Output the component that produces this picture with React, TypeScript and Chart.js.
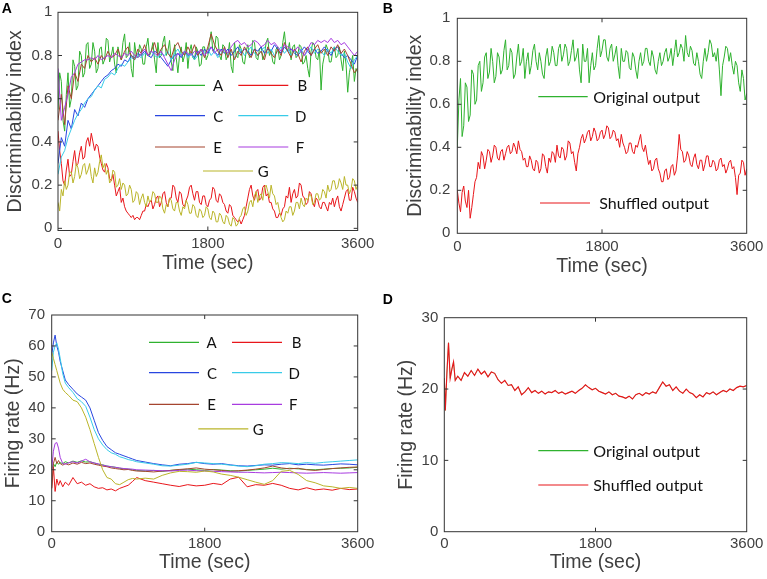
import React, { useEffect, useRef } from "react";
import { Chart, registerables } from "chart.js";

Chart.register(...registerables);

// ---------------- data ----------------
const X_TICKS = [0, 1800, 3600];
const X_TICK_LABELS = ["0", "1800", "3600"];
const DISC_TICKS = [0, 0.2, 0.4, 0.6, 0.8, 1];
const DISC_TICK_LABELS = ["0", "0.2", "0.4", "0.6", "0.8", "1"];
const RATE_C_TICKS = [0, 10, 20, 30, 40, 50, 60, 70];
const RATE_C_TICK_LABELS = ["0", "10", "20", "30", "40", "50", "60", "70"];
const RATE_D_TICKS = [0, 10, 20, 30];
const RATE_D_TICK_LABELS = ["0", "10", "20", "30"];

const SERIES_NAMES = ["A", "B", "C", "D", "E", "F", "G"];
const OUTPUT_NAMES = ["Original output", "Shuffled output"];

// time stamps (sec), 40 s grid
const T40 = [
  0, 40, 80, 120, 160, 200, 240, 280, 320, 360,
  400, 440, 480, 520, 560, 600, 640, 680, 720, 760,
  800, 840, 880, 920, 960, 1000, 1040, 1080, 1120, 1160,
  1200, 1240, 1280, 1320, 1360, 1400, 1440, 1480, 1520, 1560,
  1600, 1640, 1680, 1720, 1760, 1800, 1840, 1880, 1920, 1960,
  2000, 2040, 2080, 2120, 2160, 2200, 2240, 2280, 2320, 2360,
  2400, 2440, 2480, 2520, 2560, 2600, 2640, 2680, 2720, 2760,
  2800, 2840, 2880, 2920, 2960, 3000, 3040, 3080, 3120, 3160,
  3200, 3240, 3280, 3320, 3360, 3400, 3440, 3480, 3520, 3560,
  3600,
];
// time stamps (sec), 20 s grid
const T20 = [
  0, 20, 40, 60, 80, 100, 120, 140, 160, 180, 200, 220, 240, 260, 280, 300, 320, 340, 360, 380,
  400, 420, 440, 460, 480, 500, 520, 540, 560, 580, 600, 620, 640, 660, 680, 700, 720, 740, 760, 780,
  800, 820, 840, 860, 880, 900, 920, 940, 960, 980, 1000, 1020, 1040, 1060, 1080, 1100, 1120, 1140, 1160, 1180,
  1200, 1220, 1240, 1260, 1280, 1300, 1320, 1340, 1360, 1380, 1400, 1420, 1440, 1460, 1480, 1500, 1520, 1540, 1560, 1580,
  1600, 1620, 1640, 1660, 1680, 1700, 1720, 1740, 1760, 1780, 1800, 1820, 1840, 1860, 1880, 1900, 1920, 1940, 1960, 1980,
  2000, 2020, 2040, 2060, 2080, 2100, 2120, 2140, 2160, 2180, 2200, 2220, 2240, 2260, 2280, 2300, 2320, 2340, 2360, 2380,
  2400, 2420, 2440, 2460, 2480, 2500, 2520, 2540, 2560, 2580, 2600, 2620, 2640, 2660, 2680, 2700, 2720, 2740, 2760, 2780,
  2800, 2820, 2840, 2860, 2880, 2900, 2920, 2940, 2960, 2980, 3000, 3020, 3040, 3060, 3080, 3100, 3120, 3140, 3160, 3180,
  3200, 3220, 3240, 3260, 3280, 3300, 3320, 3340, 3360, 3380, 3400, 3420, 3440, 3460, 3480, 3500, 3520, 3540, 3560, 3580,
  3600,
];

// Panel A: discriminability index (A, B, G on the 20 s grid; C-F on the 40 s grid)
const DISC_A = [
  0.55, 0.72, 0.68, 0.5, 0.45, 0.62, 0.72, 0.56, 0.6, 0.78, 0.75, 0.64, 0.66, 0.82, 0.8, 0.7, 0.72, 0.85, 0.86, 0.74,
  0.76, 0.86, 0.82, 0.72, 0.74, 0.83, 0.84, 0.76, 0.78, 0.88, 0.87, 0.77, 0.8, 0.84, 0.76, 0.72, 0.84, 0.8, 0.78, 0.86,
  0.9, 0.79, 0.8, 0.86, 0.74, 0.7, 0.86, 0.8, 0.79, 0.85, 0.83, 0.76, 0.76, 0.84, 0.88, 0.8, 0.82, 0.86, 0.78, 0.72,
  0.86, 0.79, 0.8, 0.86, 0.89, 0.8, 0.82, 0.87, 0.77, 0.73, 0.85, 0.79, 0.72, 0.8, 0.84, 0.77, 0.8, 0.86, 0.74, 0.82,
  0.85, 0.79, 0.78, 0.84, 0.82, 0.75, 0.76, 0.84, 0.84, 0.78, 0.8, 0.86, 0.91, 0.82, 0.83, 0.89, 0.88, 0.8, 0.78, 0.85,
  0.84, 0.78, 0.8, 0.86, 0.75, 0.72, 0.86, 0.8, 0.79, 0.85, 0.83, 0.77, 0.76, 0.82, 0.85, 0.79, 0.8, 0.87, 0.86, 0.79,
  0.78, 0.83, 0.84, 0.78, 0.8, 0.86, 0.88, 0.8, 0.82, 0.77, 0.76, 0.83, 0.84, 0.78, 0.8, 0.86, 0.91, 0.83, 0.82, 0.86,
  0.78, 0.84, 0.85, 0.79, 0.8, 0.85, 0.84, 0.76, 0.77, 0.8, 0.74, 0.7, 0.82, 0.86, 0.85, 0.79, 0.78, 0.83, 0.64, 0.76,
  0.8, 0.85, 0.83, 0.77, 0.77, 0.82, 0.84, 0.79, 0.8, 0.84, 0.78, 0.73, 0.82, 0.76, 0.63, 0.72, 0.76, 0.8, 0.68, 0.74,
  0.72,
];
const DISC_B = [
  0.45, 0.36, 0.3, 0.22, 0.2, 0.27, 0.32, 0.24, 0.25, 0.31, 0.36, 0.29, 0.3, 0.35, 0.38, 0.32, 0.33, 0.4, 0.42, 0.38,
  0.44, 0.4, 0.36, 0.39, 0.38, 0.33, 0.3, 0.27, 0.26, 0.3, 0.28, 0.23, 0.22, 0.25, 0.2, 0.15, 0.17, 0.19, 0.12, 0.14,
  0.1, 0.08, 0.07, 0.06, 0.05, 0.06, 0.04, 0.05, 0.05, 0.04, 0.06, 0.08, 0.08, 0.11, 0.1, 0.12, 0.13, 0.09, 0.11, 0.14,
  0.15, 0.1, 0.12, 0.16, 0.17, 0.12, 0.1, 0.14, 0.14, 0.2, 0.19, 0.14, 0.12, 0.17, 0.16, 0.11, 0.1, 0.13, 0.15, 0.19,
  0.2, 0.16, 0.13, 0.17, 0.17, 0.12, 0.11, 0.15, 0.15, 0.11, 0.1, 0.13, 0.14, 0.19, 0.18, 0.13, 0.12, 0.16, 0.15, 0.12,
  0.11, 0.08, 0.07, 0.11, 0.1, 0.06, 0.05, 0.04, 0.03, 0.04, 0.02, 0.04, 0.06, 0.1, 0.14, 0.18, 0.2, 0.15, 0.13, 0.17,
  0.18, 0.13, 0.14, 0.19, 0.2, 0.15, 0.16, 0.12, 0.12, 0.09, 0.08, 0.05, 0.05, 0.07, 0.06, 0.09, 0.1, 0.15, 0.14, 0.19,
  0.12, 0.16, 0.18, 0.14, 0.15, 0.21, 0.2, 0.15, 0.14, 0.11, 0.12, 0.17, 0.16, 0.12, 0.1, 0.14, 0.13, 0.1, 0.09, 0.12,
  0.12, 0.1, 0.08, 0.12, 0.11, 0.14, 0.1, 0.13, 0.15, 0.1, 0.08, 0.11, 0.14, 0.17, 0.18, 0.13, 0.13, 0.19, 0.17, 0.14,
  0.12,
];
const DISC_C = [
  0.3, 0.42, 0.38, 0.5, 0.46, 0.55, 0.52, 0.58, 0.56, 0.6,
  0.62, 0.64, 0.66, 0.68, 0.7, 0.71, 0.73, 0.74, 0.76, 0.75,
  0.78, 0.77, 0.8, 0.79, 0.81, 0.8, 0.82, 0.8, 0.79, 0.82,
  0.81, 0.79, 0.77, 0.75, 0.78, 0.8, 0.81, 0.79, 0.82, 0.8,
  0.81, 0.79, 0.82, 0.8, 0.83, 0.81, 0.84, 0.82, 0.8, 0.83,
  0.81, 0.83, 0.8, 0.82, 0.84, 0.81, 0.83, 0.82, 0.8, 0.83,
  0.82, 0.84, 0.81, 0.83, 0.82, 0.85, 0.83, 0.81, 0.84, 0.82,
  0.83, 0.81, 0.8, 0.82, 0.84, 0.82, 0.8, 0.83, 0.81, 0.82,
  0.84, 0.82, 0.8, 0.83, 0.84, 0.81, 0.79, 0.8, 0.78, 0.76,
  0.8,
];
const DISC_D = [
  0.25, 0.33, 0.36, 0.42, 0.46, 0.5, 0.53, 0.55, 0.58, 0.6,
  0.61, 0.64, 0.66, 0.65, 0.69, 0.7, 0.72, 0.71, 0.74, 0.76,
  0.75, 0.77, 0.79, 0.78, 0.8, 0.79, 0.81, 0.8, 0.82, 0.8,
  0.79, 0.81, 0.8, 0.82, 0.78, 0.81, 0.83, 0.8, 0.82, 0.79,
  0.81, 0.78, 0.8, 0.82, 0.81, 0.83, 0.8, 0.82, 0.79, 0.81,
  0.83, 0.8, 0.82, 0.79, 0.81, 0.83, 0.8, 0.82, 0.84, 0.81,
  0.8, 0.82, 0.84, 0.81, 0.83, 0.8, 0.82, 0.84, 0.81, 0.83,
  0.8, 0.82, 0.81, 0.83, 0.8, 0.82, 0.84, 0.81, 0.83, 0.82,
  0.8, 0.83, 0.81, 0.84, 0.82, 0.8, 0.81, 0.77, 0.74, 0.78,
  0.8,
];
const DISC_E = [
  0.5, 0.62, 0.48, 0.66, 0.6, 0.72, 0.68, 0.76, 0.74, 0.8,
  0.77, 0.79, 0.76, 0.8, 0.78, 0.82, 0.79, 0.8, 0.83, 0.78,
  0.82, 0.84, 0.8, 0.78, 0.83, 0.81, 0.85, 0.8, 0.82, 0.86,
  0.8, 0.83, 0.85, 0.81, 0.79, 0.84, 0.86, 0.82, 0.8, 0.84,
  0.81, 0.85, 0.8, 0.83, 0.79, 0.84, 0.9, 0.85, 0.82, 0.8,
  0.84, 0.79, 0.83, 0.78, 0.82, 0.8, 0.84, 0.81, 0.79, 0.83,
  0.8, 0.82, 0.78, 0.84, 0.81, 0.79, 0.83, 0.8, 0.86, 0.82,
  0.79, 0.83, 0.81, 0.77, 0.82, 0.84, 0.8, 0.83, 0.85, 0.81,
  0.83, 0.8, 0.84, 0.82, 0.85, 0.81, 0.83, 0.8, 0.76, 0.72,
  0.74,
];
const DISC_F = [
  0.74, 0.5, 0.56, 0.62, 0.7, 0.72, 0.76, 0.77, 0.78, 0.78,
  0.79, 0.78, 0.8, 0.78, 0.79, 0.8, 0.79, 0.81, 0.8, 0.79,
  0.81, 0.8, 0.82, 0.8, 0.79, 0.81, 0.83, 0.8, 0.82, 0.81,
  0.8, 0.82, 0.79, 0.76, 0.73, 0.78, 0.81, 0.8, 0.82, 0.81,
  0.8, 0.82, 0.81, 0.83, 0.8, 0.82, 0.84, 0.81, 0.83, 0.82,
  0.83, 0.81, 0.84, 0.86, 0.87, 0.85, 0.86, 0.84, 0.85, 0.87,
  0.86, 0.84, 0.85, 0.87, 0.85, 0.86, 0.84, 0.82, 0.85, 0.84,
  0.83, 0.82, 0.84, 0.82, 0.8, 0.83, 0.86, 0.85, 0.87, 0.86,
  0.87, 0.86, 0.88, 0.86, 0.87, 0.85, 0.86, 0.84, 0.82, 0.8,
  0.82,
];
const DISC_G = [
  0.12, 0.08, 0.18, 0.15, 0.22, 0.18, 0.2, 0.26, 0.26, 0.21, 0.24, 0.3, 0.28, 0.23, 0.25, 0.29, 0.3, 0.25, 0.27, 0.3,
  0.24, 0.21, 0.28, 0.24, 0.26, 0.31, 0.34, 0.28, 0.3, 0.25, 0.27, 0.21, 0.22, 0.27, 0.26, 0.19, 0.2, 0.23, 0.18, 0.21,
  0.2, 0.15, 0.16, 0.2, 0.18, 0.12, 0.13, 0.17, 0.16, 0.11, 0.14, 0.16, 0.12, 0.1, 0.15, 0.12, 0.13, 0.17, 0.16, 0.12,
  0.12, 0.15, 0.14, 0.09, 0.07, 0.11, 0.1, 0.14, 0.13, 0.09, 0.08, 0.12, 0.12, 0.08, 0.06, 0.1, 0.09, 0.13, 0.11, 0.07,
  0.07, 0.11, 0.1, 0.06, 0.05, 0.09, 0.08, 0.05, 0.06, 0.1, 0.09, 0.05, 0.04, 0.08, 0.07, 0.03, 0.03, 0.07, 0.06, 0.03,
  0.02, 0.06, 0.05, 0.02, 0.01, 0.05, 0.04, 0.01, 0.02, 0.05, 0.06, 0.09, 0.1, 0.06, 0.08, 0.12, 0.13, 0.1, 0.15, 0.17,
  0.12, 0.15, 0.16, 0.13, 0.19, 0.2, 0.17, 0.14, 0.2, 0.16, 0.15, 0.11, 0.12, 0.08, 0.05, 0.03, 0.04, 0.08, 0.07, 0.1,
  0.1, 0.06, 0.08, 0.12, 0.12, 0.09, 0.14, 0.11, 0.1, 0.14, 0.13, 0.16, 0.15, 0.11, 0.12, 0.16, 0.16, 0.13, 0.14, 0.18,
  0.17, 0.14, 0.2, 0.17, 0.18, 0.22, 0.22, 0.18, 0.19, 0.23, 0.21, 0.18, 0.24, 0.2, 0.2, 0.16, 0.18, 0.23, 0.22, 0.18,
  0.2,
];

// Panel B: original vs shuffled discriminability (20 s grid)
const DISC_ORIGINAL = [
  0.4, 0.62, 0.72, 0.45, 0.5, 0.7, 0.68, 0.52, 0.55, 0.76, 0.74, 0.6, 0.62, 0.78, 0.8, 0.66, 0.7, 0.82, 0.84, 0.72,
  0.75, 0.86, 0.8, 0.7, 0.73, 0.84, 0.82, 0.74, 0.76, 0.85, 0.9, 0.76, 0.78, 0.86, 0.84, 0.72, 0.74, 0.82, 0.88, 0.78,
  0.8, 0.86, 0.72, 0.8, 0.84, 0.74, 0.78, 0.85, 0.88, 0.8, 0.76, 0.84, 0.8, 0.74, 0.72, 0.82, 0.86, 0.78, 0.8, 0.87,
  0.84, 0.78, 0.78, 0.86, 0.88, 0.8, 0.83, 0.88, 0.86, 0.78, 0.8, 0.85, 0.9, 0.8, 0.82, 0.86, 0.76, 0.7, 0.88, 0.8,
  0.8, 0.86, 0.7, 0.78, 0.84, 0.76, 0.78, 0.86, 0.92, 0.82, 0.85, 0.9, 0.9, 0.82, 0.8, 0.86, 0.88, 0.8, 0.83, 0.87,
  0.78, 0.72, 0.86, 0.8, 0.8, 0.85, 0.84, 0.77, 0.76, 0.84, 0.82, 0.76, 0.72, 0.8, 0.84, 0.78, 0.8, 0.86, 0.86, 0.8,
  0.78, 0.85, 0.82, 0.76, 0.74, 0.8, 0.84, 0.78, 0.8, 0.84, 0.86, 0.8, 0.82, 0.86, 0.78, 0.84, 0.9, 0.82, 0.84, 0.88,
  0.86, 0.8, 0.92, 0.84, 0.82, 0.87, 0.85, 0.79, 0.78, 0.84, 0.8, 0.74, 0.72, 0.8, 0.86, 0.8, 0.84, 0.9, 0.88, 0.82,
  0.84, 0.8, 0.86, 0.76, 0.64, 0.78, 0.82, 0.87, 0.86, 0.8, 0.84, 0.78, 0.74, 0.8, 0.78, 0.7, 0.66, 0.76, 0.72, 0.62,
  0.65,
];
const DISC_SHUFFLED = [
  0.2, 0.14, 0.1, 0.19, 0.22, 0.15, 0.12, 0.2, 0.07, 0.12, 0.18, 0.24, 0.26, 0.33, 0.3, 0.38, 0.36, 0.3, 0.34, 0.39,
  0.38, 0.33, 0.36, 0.41, 0.4, 0.35, 0.34, 0.38, 0.39, 0.34, 0.37, 0.4, 0.41, 0.37, 0.38, 0.42, 0.4, 0.37, 0.43, 0.39,
  0.38, 0.34, 0.35, 0.31, 0.31, 0.36, 0.34, 0.3, 0.29, 0.34, 0.33, 0.28, 0.3, 0.37, 0.36, 0.31, 0.28, 0.35, 0.33, 0.38,
  0.37, 0.33, 0.41, 0.36, 0.35, 0.4, 0.39, 0.34, 0.36, 0.43, 0.42, 0.37, 0.38, 0.33, 0.29, 0.37, 0.4, 0.44, 0.46, 0.42,
  0.44, 0.47, 0.48, 0.43, 0.45, 0.49, 0.47, 0.43, 0.44, 0.47, 0.48, 0.44, 0.46, 0.5, 0.49, 0.44, 0.45, 0.48, 0.47, 0.43,
  0.44, 0.4, 0.46, 0.42, 0.4, 0.37, 0.38, 0.42, 0.42, 0.38, 0.37, 0.41, 0.4, 0.43, 0.46, 0.4, 0.38, 0.41, 0.36, 0.32,
  0.34, 0.29, 0.3, 0.34, 0.35, 0.3, 0.28, 0.24, 0.24, 0.29, 0.3, 0.25, 0.26, 0.31, 0.32, 0.27, 0.29, 0.36, 0.46, 0.39,
  0.38, 0.33, 0.34, 0.38, 0.36, 0.32, 0.31, 0.35, 0.37, 0.32, 0.3, 0.34, 0.34, 0.29, 0.32, 0.36, 0.36, 0.31, 0.31, 0.34,
  0.33, 0.29, 0.3, 0.34, 0.35, 0.31, 0.32, 0.28, 0.3, 0.33, 0.34, 0.3, 0.31, 0.26, 0.18, 0.27, 0.28, 0.34, 0.33, 0.27,
  0.3,
];

// Panel C: firing rate (Hz)
const T_RATE = [
  0, 20, 40, 60, 80, 100, 130, 160, 200,
  250, 300, 350, 400, 450, 500, 550, 600, 650, 700, 750, 800, 850, 900, 950, 1000,
  1100, 1200, 1300, 1400, 1500, 1600, 1700, 1800, 1900, 2000, 2100, 2200, 2300,
  2400, 2500, 2600, 2700, 2800, 2900, 3000, 3100, 3200, 3300, 3400, 3500, 3600,
];
const RATE_A = [
  20, 22, 21, 22.5, 21.8, 22.3, 22, 22.6, 22.2,
  22.8, 22.4, 22.9, 22.5, 22.6, 22.2, 21.8, 21.6, 21.2, 21, 20.8, 20.5, 20.3, 20.2, 20, 19.8,
  19.6, 19.8, 19.5, 19.8, 20, 20.2, 20, 19.8, 20.1, 19.9, 19.7, 19.6, 19.8,
  20, 20.2, 20.5, 20.2, 20.5, 20.3, 20.1, 20, 20.2, 20.4, 20.5, 20.6, 20.8,
];
const RATE_B = [
  14, 21, 13, 17, 15, 16.5, 14.5, 16, 15,
  17.5, 15.5, 16, 15, 15.5, 14.5, 14, 14.2, 13.5, 13.8, 13.2, 14, 14.5, 15, 16.2, 17.5,
  16.5, 16, 15.5, 15, 14.6, 15.2, 14.8, 15, 15.6, 15.2, 17, 17.6, 14.5,
  15.2, 15, 15.6, 15, 14, 13.5, 14.2, 13.5, 13.8, 13.4, 14, 13.6, 13.8,
];
const RATE_C = [
  57, 61, 63.5, 60, 58, 55, 52, 49, 47.5,
  46, 44.5, 43.5, 42.5, 40, 36, 32, 29.5, 27.5, 26.5, 25.5, 25, 24.5, 24, 23.5, 23,
  22.5, 22, 21.6, 21.3, 21.8, 22, 22.4, 22, 21.8, 22, 21.6, 21.3, 21.2,
  21.4, 21.6, 21.5, 21.8, 22, 21.6, 21.8, 21.6, 21.5, 21.7, 21.9, 21.8, 21.6,
];
const RATE_D = [
  52, 58, 60, 61, 59, 56, 51, 48, 46.5,
  45, 43, 42, 40.5, 37, 33, 30, 28, 26.5, 25.5, 25, 24.2, 23.8, 23.3, 23, 22.6,
  22.2, 21.8, 21.3, 21.2, 21.5, 21.8, 22.4, 22.2, 22, 21.8, 21.5, 21.2, 21,
  21.3, 21.8, 22, 22.3, 22.2, 22, 22.3, 22.1, 22.4, 22.6, 22.8, 23, 23.2,
];
const RATE_E = [
  14, 22, 24, 22, 23, 22, 21.5, 22, 21.6,
  22.2, 21.8, 22.4, 22, 22.2, 21.8, 21.5, 21.2, 21, 20.6, 20.4, 20.2, 20, 20.1, 19.8, 19.6,
  19.5, 19.3, 19.6, 19.8, 20.1, 20.3, 20.6, 20.2, 20, 19.8, 19.5, 19.7, 19.9,
  20.2, 20.6, 21.2, 20.6, 20.3, 20.5, 20, 19.8, 20.1, 20.4, 20.6, 20.8, 20.9,
];
const RATE_F = [
  20, 26, 28.5, 28.8, 27, 24, 22, 21.8, 22.3,
  22.6, 22.2, 22.8, 23.4, 22.6, 22.2, 21.9, 21.5, 21.2, 21, 20.8, 20.6, 20.4, 20.3, 20.2, 20,
  19.9, 19.8, 19.7, 19.6, 19.8, 19.9, 19.7, 19.6, 19.5, 19.4, 19.3, 19.2, 19.2,
  19.1, 19, 19.1, 19.2, 19.1, 19, 18.9, 19, 19.1, 19, 18.9, 19, 19.1,
];
const RATE_G = [
  58, 56, 54, 52, 50, 48, 46, 45, 44,
  42.5, 42, 40, 37, 33, 28.5, 24, 20, 17.5, 17, 15.5, 15.2, 16, 16.8, 17.2, 17,
  17.3, 17, 18.2, 19, 19.5, 19.4, 19.2, 19.6, 19.3, 18.6, 18.2, 17.6, 16.8,
  16, 15.3, 16.5, 19.5, 19.8, 18.5, 16.5, 15.8, 14.8, 14.5, 14, 14.3, 14,
];

// Panel D: firing rate of original / shuffled output (curves coincide)
const T_OUT = [
  0, 12, 30, 50, 70, 90, 110, 130, 160,
  200, 240, 280, 320, 360, 400, 440, 480, 520, 560,
  600, 640, 680, 720, 760, 800, 840, 880, 920, 960,
  1000, 1040, 1080, 1120, 1160, 1200, 1240, 1280, 1320, 1360,
  1400, 1440, 1480, 1520, 1560, 1600, 1640, 1680, 1720, 1760,
  1800, 1840, 1880, 1920, 1960, 2000, 2040, 2080, 2120, 2160,
  2200, 2240, 2280, 2320, 2360, 2400, 2440, 2480, 2520, 2560,
  2600, 2640, 2680, 2720, 2760, 2800, 2840, 2880, 2920, 2960,
  3000, 3040, 3080, 3120, 3160, 3200, 3240, 3280, 3320, 3360,
  3400, 3440, 3480, 3520, 3560, 3600,
];
const RATE_SHUFFLED = [
  21.5, 17, 22, 26.5, 21.5, 22.8, 23.8, 21.2, 21.8,
  21.2, 22.3, 21.8, 22.6, 21.9, 22.8, 22.1, 22.5, 21.7, 22.4,
  22.2, 21.3, 20.8, 21.2, 20.5, 20.6, 19.8, 20.3, 19.2, 19.6,
  20.2, 19.5, 19.8, 19.4, 19.7, 19.3, 19.6, 19.5, 19.8, 19.4,
  19.6, 19.3, 19.5, 19.7, 19.4, 19.8, 20.1, 20.6, 20.2, 19.9,
  20.1, 19.7, 19.5, 19.3, 19.6, 19.2, 19.4, 19.0, 18.9, 18.7,
  19.0, 18.6, 19.2, 19.4, 19.1, 19.5, 19.3, 19.6, 19.4, 20.2,
  21.0, 20.4, 20.6, 19.8, 20.3, 19.7, 19.4, 20.0, 19.5, 19.3,
  18.8, 19.2, 18.9, 19.5, 19.3, 19.6, 19.2, 19.5, 19.8, 19.6,
  20.0, 19.8, 20.2, 20.4, 20.3, 20.5,
];
const RATE_ORIGINAL = RATE_SHUFFLED;

// ---------------- styles ----------------
const GREEN = "#2fb22f";
const RED = "#e8161b";
const BLUE = "#2846e0";
const CYAN = "#38cbe8";
const BROWN = "#a5452f";
const PURPLE = "#a83ce0";
const OLIVE = "#bab52a";
const COLORS = [GREEN, RED, BLUE, CYAN, BROWN, PURPLE, OLIVE];

const TITLE_FONT = '"Liberation Sans", Arial, Helvetica, sans-serif';
const TICK_FONT = '"Liberation Sans Narrow", "Liberation Sans", Arial, sans-serif';
const LEGEND_FONT = 'Lato, "Noto Sans", sans-serif';
const INK = "#404040";
const AXIS = "#333333";
const TITLE_SIZE = 19.5;
const TICK_SIZE = 15;
const TICK_LEN = 4;

function letterLegend(rows, lineA, lineB, labelA, labelB, gRow) {
  const items = [];
  rows.forEach((y, r) => {
    const iA = r * 2;
    const iB = r * 2 + 1;
    items.push({ x1: lineA[0], x2: lineA[1], y, color: COLORS[iA], text: SERIES_NAMES[iA], tx: labelA[r], align: "center", size: 15 });
    items.push({ x1: lineB[0], x2: lineB[1], y, color: COLORS[iB], text: SERIES_NAMES[iB], tx: labelB[r], align: "center", size: 15 });
  });
  items.push({ x1: gRow.x1, x2: gRow.x2, y: gRow.y, color: COLORS[6], text: SERIES_NAMES[6], tx: gRow.tx, align: "center", size: 15 });
  return items;
}

const PANELS = [
  {
    letter: "A", letterX: 1.7, letterY: 13.3,
    canvas: { x: 0, y: 0, w: 378, h: 278 },
    plot: { l: 58, t: 12.3, r: 357.7, b: 230.5 },
    yMin: -0.01, yMax: 1, yTicks: DISC_TICKS, yLabels: DISC_TICK_LABELS,
    yTitle: "Discriminability index", yTitleMid: 15.5, yTickPad: 5.7, xTickPad: 4.5, xTitleOff: 33,
    series: [
      { t: T20, v: DISC_A, color: GREEN },
      { t: T20, v: DISC_B, color: RED },
      { t: T40, v: DISC_C, color: BLUE },
      { t: T40, v: DISC_D, color: CYAN },
      { t: T40, v: DISC_E, color: BROWN },
      { t: T40, v: DISC_F, color: PURPLE },
      { t: T20, v: DISC_G, color: OLIVE },
    ],
    legend: letterLegend([85.3, 115.7, 147], [155, 205], [238.3, 288.3], [218, 218.3, 217.7], [302.3, 300.7, 300], { x1: 203, x2: 253, y: 171, tx: 263.3 }),
  },
  {
    letter: "B", letterX: 382.7, letterY: 12.7,
    canvas: { x: 380, y: 0, w: 387, h: 280 },
    plot: { l: 457.3, t: 18.3, r: 746.7, b: 233.3 },
    yMin: 0, yMax: 1, yTicks: DISC_TICKS, yLabels: DISC_TICK_LABELS,
    yTitle: "Discriminability index", yTitleMid: 416, yTickPad: 7, xTickPad: 4.5, xTitleOff: 33,
    series: [
      { t: T20, v: DISC_ORIGINAL, color: GREEN },
      { t: T20, v: DISC_SHUFFLED, color: RED },
    ],
    legend: [
      { x1: 538.3, x2: 587.7, y: 96.7, color: GREEN, text: OUTPUT_NAMES[0], tx: 593.3, align: "left", size: 16 },
      { x1: 540, x2: 590, y: 203, color: RED, text: OUTPUT_NAMES[1], tx: 599.3, align: "left", size: 16 },
    ],
  },
  {
    letter: "C", letterX: 1.7, letterY: 303.3,
    canvas: { x: 0, y: 280, w: 378, h: 299 },
    plot: { l: 51.7, t: 315, r: 357.7, b: 531.7 },
    yMin: 0, yMax: 70, yTicks: RATE_C_TICKS, yLabels: RATE_C_TICK_LABELS,
    yTitle: "Firing rate (Hz)", yTitleMid: 13.3, yTickPad: 6.7, xTickPad: 3, xTitleOff: 31,
    series: [RATE_A, RATE_B, RATE_C, RATE_D, RATE_E, RATE_F, RATE_G].map((v, i) => ({ t: T_RATE, v, color: COLORS[i] })),
    legend: letterLegend([342.3, 372.7, 404.3], [149, 199], [232, 282], [211.7, 212, 211.7], [296.7, 294.3, 293.3], { x1: 198.3, x2: 248.3, y: 428.8, tx: 258.3 }),
  },
  {
    letter: "D", letterX: 382.7, letterY: 304.3,
    canvas: { x: 380, y: 280, w: 387, h: 299 },
    plot: { l: 444.3, t: 317.7, r: 746.7, b: 531.7 },
    yMin: 0, yMax: 30, yTicks: RATE_D_TICKS, yLabels: RATE_D_TICK_LABELS,
    yTitle: "Firing rate (Hz)", yTitleMid: 406.5, yTickPad: 6, xTickPad: 3, xTitleOff: 31,
    series: [
      { t: T_OUT, v: RATE_ORIGINAL, color: GREEN, width: 0.5 },
      { t: T_OUT, v: RATE_SHUFFLED, color: RED, width: 1.15 },
    ],
    legend: [
      { x1: 538.3, x2: 588.3, y: 450.7, color: GREEN, text: OUTPUT_NAMES[0], tx: 593.3, align: "left", size: 16 },
      { x1: 538.3, x2: 588.3, y: 485, color: RED, text: OUTPUT_NAMES[1], tx: 593.3, align: "left", size: 16 },
    ],
  },
];

function framePlugin(p) {
  return {
    id: "frame" + p.letter,
    afterDraw(chart) {
      const { ctx, chartArea: a, scales } = chart;
      const ox = p.canvas.x;
      const oy = p.canvas.y;
      ctx.save();
      ctx.strokeStyle = AXIS;
      ctx.lineWidth = 1;
      ctx.strokeRect(a.left, a.top, a.right - a.left, a.bottom - a.top);
      ctx.beginPath();
      for (const v of p.yTicks) {
        const y = scales.y.getPixelForValue(v);
        if (y <= a.top + 1 || y >= a.bottom - 1) continue;
        ctx.moveTo(a.left, y);
        ctx.lineTo(a.left + TICK_LEN, y);
        ctx.moveTo(a.right, y);
        ctx.lineTo(a.right - TICK_LEN, y);
      }
      for (const v of X_TICKS) {
        const x = scales.x.getPixelForValue(v);
        if (x <= a.left + 1 || x >= a.right - 1) continue;
        ctx.moveTo(x, a.bottom);
        ctx.lineTo(x, a.bottom - TICK_LEN);
        ctx.moveTo(x, a.top);
        ctx.lineTo(x, a.top + TICK_LEN);
      }
      ctx.stroke();

      // legend
      ctx.textBaseline = "middle";
      for (const it of p.legend) {
        ctx.strokeStyle = it.color;
        ctx.lineWidth = 1.2;
        ctx.beginPath();
        ctx.moveTo(it.x1 - ox, it.y - oy);
        ctx.lineTo(it.x2 - ox, it.y - oy);
        ctx.stroke();
        ctx.fillStyle = "#111";
        ctx.font = `${it.size}px ${LEGEND_FONT}`;
        ctx.textAlign = it.align;
        ctx.fillText(it.text, it.tx - ox, it.y - oy + 1);
      }

      // panel letter
      ctx.font = `bold 14px ${TITLE_FONT}`;
      ctx.fillStyle = "#000";
      ctx.textAlign = "left";
      ctx.textBaseline = "alphabetic";
      ctx.fillText(p.letter, p.letterX - ox, p.letterY - oy);
      ctx.restore();
    },
  };
}

function buildConfig(p) {
  const cx = p.canvas.x;
  const cy = p.canvas.y;
  const yw = p.plot.l - cx;
  const xh = cy + p.canvas.h - p.plot.b;
  const tlh = TITLE_SIZE * 1.2;
  const n = p.series.length;
  return {
    type: "line",
    data: {
      datasets: p.series.map((s, i) => ({
        data: s.t.map((x, k) => ({ x, y: s.v[k] })),
        borderColor: s.color,
        backgroundColor: s.color,
        borderWidth: s.width || 1,
        pointRadius: 0,
        tension: 0,
        fill: false,
        order: n - i,
      })),
    },
    options: {
      animation: false,
      responsive: false,
      maintainAspectRatio: false,
      devicePixelRatio: 1,
      events: [],
      layout: {
        autoPadding: false,
        padding: { left: 0, top: p.plot.t - cy, right: cx + p.canvas.w - p.plot.r, bottom: 0 },
      },
      plugins: { legend: { display: false }, tooltip: { enabled: false }, title: { display: false } },
      scales: {
        x: {
          type: "linear",
          min: 0,
          max: 3600,
          afterBuildTicks: (s) => {
            s.ticks = X_TICKS.map((v) => ({ value: v }));
          },
          afterFit: (s) => {
            s.height = xh;
            s.paddingLeft = 0;
            s.paddingRight = 0;
            s.paddingTop = 0;
            s.paddingBottom = 0;
          },
          grid: { display: false, drawTicks: false },
          border: { display: false },
          ticks: {
            padding: p.xTickPad,
            color: INK,
            maxRotation: 0,
            autoSkip: false,
            font: { family: TICK_FONT, size: TICK_SIZE },
            callback: (v, i) => X_TICK_LABELS[i],
          },
          title: {
            display: true,
            text: "Time (sec)",
            color: INK,
            font: { family: TITLE_FONT, size: TITLE_SIZE },
            padding: { top: 0, bottom: xh - p.xTitleOff - tlh / 2 },
          },
        },
        y: {
          type: "linear",
          min: p.yMin,
          max: p.yMax,
          afterBuildTicks: (s) => {
            s.ticks = p.yTicks.map((v) => ({ value: v }));
          },
          afterFit: (s) => {
            s.width = yw;
            s.paddingLeft = 0;
            s.paddingRight = 0;
            s.paddingTop = 0;
            s.paddingBottom = 0;
          },
          grid: { display: false, drawTicks: false },
          border: { display: false },
          ticks: {
            padding: p.yTickPad,
            color: INK,
            autoSkip: false,
            font: { family: TICK_FONT, size: TICK_SIZE },
            callback: (v, i) => p.yLabels[i],
          },
          title: {
            display: true,
            text: p.yTitle,
            color: INK,
            font: { family: TITLE_FONT, size: TITLE_SIZE },
            padding: { top: p.yTitleMid - cx - tlh / 2, bottom: 0 },
          },
        },
      },
    },
    plugins: [framePlugin(p)],
  };
}

function Panel({ p }) {
  const ref = useRef(null);
  useEffect(() => {
    const chart = new Chart(ref.current, buildConfig(p) as any);
    return () => chart.destroy();
  }, [p]);
  return (
    <canvas
      ref={ref}
      width={p.canvas.w}
      height={p.canvas.h}
      style={{ position: "absolute", left: p.canvas.x, top: p.canvas.y, width: p.canvas.w, height: p.canvas.h }}
    />
  );
}

export default function App() {
  return (
    <div style={{ position: "absolute", left: 0, top: 0, width: 767, height: 579, background: "#ffffff", overflow: "hidden" }}>
      {PANELS.map((p) => (
        <Panel key={p.letter} p={p} />
      ))}
    </div>
  );
}
